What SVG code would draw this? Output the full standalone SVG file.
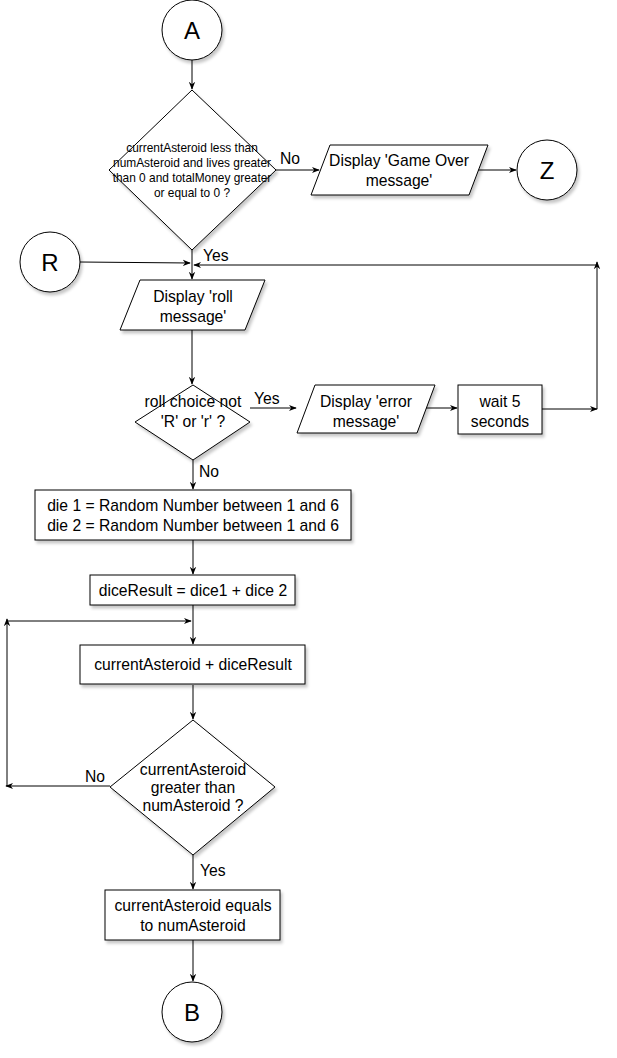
<svg xmlns="http://www.w3.org/2000/svg" width="617" height="1058" viewBox="0 0 617 1058">
  <defs>
    <marker id="arrow" viewBox="0 0 10 10" refX="9" refY="5" markerWidth="8" markerHeight="8" markerUnits="userSpaceOnUse" orient="auto">
      <path d="M0,1 L10,5 L0,9 L3,5 Z" fill="#000"/>
    </marker>
    <filter id="shadow" x="-20%" y="-20%" width="140%" height="140%">
      <feDropShadow dx="2" dy="3" stdDeviation="1.5" flood-color="#000" flood-opacity="0.22"/>
    </filter>
  </defs>
  <style>
    .shape { fill: #fff; stroke: #000; stroke-width: 1; filter: url(#shadow); }
    .edge { fill: none; stroke: #000; stroke-width: 1; marker-end: url(#arrow); }
    text { font-family: "Liberation Sans", Arial, sans-serif; fill: #000; text-anchor: middle; }
    .t { font-size: 15.7px; }
    .small { font-size: 11.9px; }
    .big { font-size: 24px; }
    .lbl { font-size: 15.7px; text-anchor: start; }
  </style>
  <rect width="617" height="1058" fill="#fff"/>

  <g id="connectors">
    <path class="edge" d="M192,60 L192,89"/>
    <path class="edge" d="M276,170 L319,170"/>
    <path class="edge" d="M478,170 L516,170"/>
    <path class="edge" d="M192,250 L192,279"/>
    <path class="edge" d="M80,262 L190,263"/>
    <path class="edge" d="M192,330 L192,384"/>
    <path class="edge" d="M250,408 L296,408"/>
    <path class="edge" d="M426,408 L457,408"/>
    <path class="edge" d="M542,409 L597,409"/>
    <path class="edge" d="M597,409 L597,262"/>
    <path class="edge" d="M597,265 L194,265"/>
    <path class="edge" d="M193,460 L193,489"/>
    <path class="edge" d="M193,540 L193,574"/>
    <path class="edge" d="M193,605 L193,644"/>
    <path class="edge" d="M110,786 L6,786"/>
    <path class="edge" d="M7,786 L7,619"/>
    <path class="edge" d="M7,621 L191,621"/>
    <path class="edge" d="M193,685 L193,719"/>
    <path class="edge" d="M193,855 L193,889"/>
    <path class="edge" d="M193,940 L193,981"/>
    <text class="lbl" x="280" y="164">No</text>
    <text class="lbl" x="203" y="261">Yes</text>
    <text class="lbl" x="254" y="404">Yes</text>
    <text class="lbl" x="199" y="477">No</text>
    <text class="lbl" x="85" y="782">No</text>
    <text class="lbl" x="200" y="876">Yes</text>
  </g>

  <g id="nodeA">
    <circle class="shape" cx="192" cy="30" r="30"/>
    <text class="big" x="192" y="38.5">A</text>
  </g>

  <g id="checkState">
    <polygon class="shape" points="192,90 276,170 192,250 109,170"/>
    <text class="small" x="192" y="152">currentAsteroid less than</text>
    <text class="small" x="192" y="167">numAsteroid and lives greater</text>
    <text class="small" x="192" y="182">than 0 and totalMoney greater</text>
    <text class="small" x="192" y="197">or equal to 0 ?</text>
  </g>

  <g id="gameOver">
    <polygon class="shape" points="330,145 488,145 469,195 311,195"/>
    <text class="t" x="399" y="166">Display 'Game Over</text>
    <text class="t" x="399" y="186">message'</text>
  </g>

  <g id="nodeZ">
    <circle class="shape" cx="547" cy="170" r="30"/>
    <text class="big" x="547" y="178.5">Z</text>
  </g>

  <g id="nodeR">
    <circle class="shape" cx="50" cy="262" r="30"/>
    <text class="big" x="50" y="270.5">R</text>
  </g>

  <g id="rollMessage">
    <polygon class="shape" points="140,280 265,280 245,330 120,330"/>
    <text class="t" x="193" y="302">Display 'roll</text>
    <text class="t" x="193" y="322">message'</text>
  </g>

  <g id="rollChoice">
    <polygon class="shape" points="193,385 250,422 193,460 135,422"/>
    <text class="t" x="193" y="407">roll choice not</text>
    <text class="t" x="193" y="427">'R' or 'r' ?</text>
  </g>

  <g id="errorMessage">
    <polygon class="shape" points="315,385 435,385 417,433 297,433"/>
    <text class="t" x="366" y="407">Display 'error</text>
    <text class="t" x="366" y="427">message'</text>
  </g>

  <g id="wait">
    <rect class="shape" x="458" y="385" width="84" height="49"/>
    <text class="t" x="500" y="407">wait 5</text>
    <text class="t" x="500" y="427">seconds</text>
  </g>

  <g id="rollDice">
    <rect class="shape" x="35" y="490" width="316" height="50"/>
    <text class="t" x="193" y="511">die 1 = Random Number between 1 and 6</text>
    <text class="t" x="193" y="531">die 2 = Random Number between 1 and 6</text>
  </g>

  <g id="diceResult">
    <rect class="shape" x="90" y="575" width="205" height="30"/>
    <text class="t" x="193" y="596">diceResult = dice1 + dice 2</text>
  </g>

  <g id="advance">
    <rect class="shape" x="80" y="645" width="225" height="39"/>
    <text class="t" x="193" y="670">currentAsteroid + diceResult</text>
  </g>

  <g id="checkOvershoot">
    <polygon class="shape" points="193,720 275,787 193,855 110,787"/>
    <text class="t" x="193" y="775">currentAsteroid</text>
    <text class="t" x="193" y="793">greater than</text>
    <text class="t" x="193" y="811">numAsteroid ?</text>
  </g>

  <g id="clamp">
    <rect class="shape" x="105" y="890" width="175" height="50"/>
    <text class="t" x="193" y="911">currentAsteroid equals</text>
    <text class="t" x="193" y="931">to numAsteroid</text>
  </g>

  <g id="nodeB">
    <circle class="shape" cx="192" cy="1012" r="30"/>
    <text class="big" x="192" y="1020.5">B</text>
  </g>
</svg>
